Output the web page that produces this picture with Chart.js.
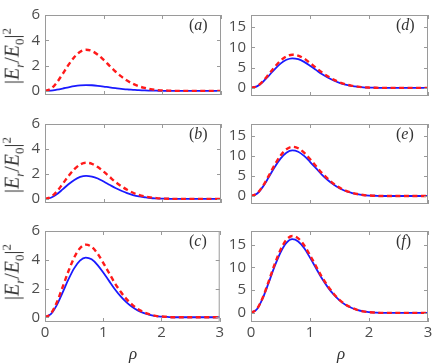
<!DOCTYPE html>
<html>
<head>
<meta charset="utf-8">
<script src="https://cdn.jsdelivr.net/npm/chart.js@4"></script>
<style>
  body { margin: 0; background: #fff; }
  #wrap { position: relative; width: 436px; height: 364px; overflow: hidden; }
  canvas { position: absolute; }
  .lbl { position: absolute; font-family: "Liberation Serif", serif; font-size: 15px; color: #333; white-space: nowrap; }
  .ytitle { transform: translate(-50%, -50%) rotate(-90deg); font-size: 20px; line-height: 20px; }
  .ytitle sub, .ytitle sup { font-size: 13px; }
  .xtitle { transform: translate(-50%, -50%); font-style: italic; font-size: 17px; }
</style>
</head>
<body>
<div id="wrap"></div>
<script>
const rho = [0, 0.1, 0.2, 0.3, 0.4, 0.5, 0.6, 0.7, 0.8, 0.9, 1.0, 1.1, 1.2, 1.3, 1.4, 1.5, 1.6, 1.7, 1.8, 1.9, 2.0, 2.1, 2.2, 2.5, 3.0];

const blueA = [0, 0.02, 0.09, 0.18, 0.28, 0.37, 0.43, 0.45, 0.44, 0.40, 0.34, 0.27, 0.21, 0.16, 0.11, 0.08, 0.05, 0.03, 0.02, 0.01, 0, 0, 0, 0, 0];
const redA = [0, 0.16, 0.65, 1.33, 2.05, 2.67, 3.09, 3.25, 3.15, 2.86, 2.44, 1.98, 1.53, 1.14, 0.81, 0.55, 0.36, 0.23, 0.13, 0.07, 0.03, 0.02, 0, 0, 0];
const blueB = [0, 0.09, 0.37, 0.76, 1.17, 1.52, 1.76, 1.85, 1.79, 1.63, 1.39, 1.13, 0.87, 0.65, 0.46, 0.31, 0.20, 0.13, 0.07, 0.04, 0.02, 0.01, 0, 0, 0];
const redB = [0, 0.15, 0.58, 1.19, 1.83, 2.38, 2.76, 2.90, 2.81, 2.55, 2.18, 1.77, 1.36, 1.02, 0.73, 0.49, 0.32, 0.20, 0.12, 0.06, 0.03, 0.01, 0, 0, 0];
const blueC = [0, 0.21, 0.83, 1.70, 2.61, 3.40, 3.94, 4.15, 4.03, 3.65, 3.11, 2.53, 1.95, 1.45, 1.04, 0.71, 0.46, 0.29, 0.17, 0.08, 0.04, 0.02, 0, 0, 0];
const redC = [0, 0.25, 1.01, 2.07, 3.18, 4.14, 4.80, 5.05, 4.90, 4.44, 3.79, 3.08, 2.37, 1.77, 1.26, 0.86, 0.56, 0.35, 0.20, 0.10, 0.05, 0.03, 0, 0, 0];
const blueD = [0, 0.37, 1.46, 2.99, 4.60, 5.99, 6.94, 7.30, 7.08, 6.42, 5.48, 4.45, 3.43, 2.56, 1.83, 1.24, 0.80, 0.51, 0.29, 0.15, 0.07, 0.04, 0, 0, 0];
const redD = [0, 0.41, 1.64, 3.36, 5.17, 6.72, 7.79, 8.20, 7.95, 7.22, 6.15, 5.00, 3.85, 2.87, 2.05, 1.39, 0.90, 0.57, 0.33, 0.16, 0.08, 0.04, 0, 0, 0];
const blueE = [0, 0.57, 2.28, 4.67, 7.18, 9.35, 10.83, 11.40, 11.06, 10.03, 8.55, 6.95, 5.36, 3.99, 2.85, 1.94, 1.25, 0.80, 0.46, 0.23, 0.11, 0.06, 0, 0, 0];
const redE = [0, 0.62, 2.46, 5.04, 7.75, 10.09, 11.69, 12.30, 11.93, 10.82, 9.23, 7.50, 5.78, 4.31, 3.08, 2.09, 1.35, 0.86, 0.49, 0.25, 0.12, 0.06, 0, 0, 0];
const blueF = [0, 0.81, 3.24, 6.64, 10.21, 13.28, 15.39, 16.20, 15.71, 14.26, 12.15, 9.88, 7.61, 5.67, 4.05, 2.75, 1.78, 1.13, 0.65, 0.32, 0.16, 0.08, 0, 0, 0];
const redF = [0, 0.85, 3.38, 6.93, 10.65, 13.86, 16.06, 16.90, 16.39, 14.87, 12.68, 10.31, 7.94, 5.92, 4.23, 2.87, 1.86, 1.18, 0.68, 0.34, 0.17, 0.08, 0, 0, 0];

const xTicks = [0, 1, 2, 3];
const yTicksLeft = [0, 2, 4, 6];
const yTicksRight = [0, 5, 10, 15];

const panels = [
  { name: "a", blue: blueA, red: redA, col: 0, top: 10, h: 96, bottom: false },
  { name: "b", blue: blueB, red: redB, col: 0, top: 119, h: 95, bottom: false },
  { name: "c", blue: blueC, red: redC, col: 0, top: 226, h: 96, bottom: true },
  { name: "d", blue: blueD, red: redD, col: 1, top: 10, h: 97, bottom: false },
  { name: "e", blue: blueE, red: redE, col: 1, top: 119, h: 96, bottom: false },
  { name: "f", blue: blueF, red: redF, col: 1, top: 226, h: 96, bottom: true },
];

const wrap = document.getElementById("wrap");
const tickFont = { family: "'Open Sans', 'DejaVu Sans', sans-serif", size: 15 };

// box around the plot with MATLAB-style inward tick marks
const boxPlugin = {
  id: "box",
  afterDraw(chart) {
    const { ctx, chartArea: a, scales } = chart;
    ctx.save();
    ctx.strokeStyle = "#9a9a9a";
    ctx.lineWidth = 1;
    ctx.strokeRect(a.left + 0.5, a.top + 0.5, a.width - 1, a.height - 1);
    ctx.beginPath();
    scales.x.ticks.forEach((t) => {
      const px = Math.round(scales.x.getPixelForValue(t.value)) + 0.5;
      ctx.moveTo(px, a.top); ctx.lineTo(px, a.top + 4);
      ctx.moveTo(px, a.bottom); ctx.lineTo(px, a.bottom - 4);
    });
    scales.y.ticks.forEach((t) => {
      const py = Math.round(scales.y.getPixelForValue(t.value)) + 0.5;
      ctx.moveTo(a.left, py); ctx.lineTo(a.left + 4, py);
      ctx.moveTo(a.right, py); ctx.lineTo(a.right - 4, py);
    });
    ctx.stroke();
    ctx.restore();
  },
};

panels.forEach((p) => {
  const left = p.col === 0 ? 0 : 226;
  const width = p.col === 0 ? 226 : 210;
  const yW = p.col === 0 ? 45 : 25;
  const padR = p.col === 0 ? 5 : 8;
  const xH = p.bottom ? 24 : 0;
  const padTop = 9;
  const canvas = document.createElement("canvas");
  canvas.width = width;
  canvas.height = padTop + p.h + xH + 3;
  canvas.style.left = left + "px";
  canvas.style.top = (p.top - padTop) + "px";
  wrap.appendChild(canvas);

  const yTicks = p.col === 0 ? yTicksLeft : yTicksRight;
  new Chart(canvas.getContext("2d"), {
    type: "line",
    data: {
      datasets: [
        {
          data: rho.map((x, i) => ({ x, y: p.red[i] })),
          borderColor: "#ff1a1a",
          borderWidth: 2.4,
          borderDash: [5, 3.5],
          pointRadius: 0,
          cubicInterpolationMode: "monotone",
        },
        {
          data: rho.map((x, i) => ({ x, y: p.blue[i] })),
          borderColor: "#1a1aff",
          borderWidth: 1.8,
          pointRadius: 0,
          cubicInterpolationMode: "monotone",
        },
      ],
    },
    options: {
      responsive: false,
      animation: false,
      devicePixelRatio: 1,
      layout: { padding: { top: padTop, right: padR, bottom: 3, left: 0 } },
      plugins: { legend: { display: false }, tooltip: { enabled: false } },
      scales: {
        x: {
          type: "linear",
          min: 0,
          max: 3,
          afterBuildTicks: (s) => { s.ticks = xTicks.map((v) => ({ value: v })); },
          afterFit: (s) => { s.height = xH; },
          ticks: { display: p.bottom, font: tickFont, color: "#4d4d4d", padding: 2, maxRotation: 0 },
          grid: { display: false, drawTicks: false },
          border: { display: false },
        },
        y: {
          min: p.col === 0 ? -0.33 : -2,
          max: p.col === 0 ? 6 : 18,
          afterBuildTicks: (s) => { s.ticks = yTicks.map((v) => ({ value: v })); },
          afterFit: (s) => { s.width = yW; },
          ticks: { font: tickFont, color: "#4d4d4d", padding: 5 },
          grid: { display: false, drawTicks: false },
          border: { display: false },
        },
      },
    },
    plugins: [boxPlugin],
  });

  const right = p.col === 0 ? 221 : 428;
  const tag = document.createElement("div");
  tag.className = "lbl";
  tag.style.left = (right - 32) + "px";
  tag.style.top = (p.top + 6) + "px";
  tag.style.fontSize = "16px";
  tag.innerHTML = "(<i>" + p.name + "</i>)";
  wrap.appendChild(tag);

  if (p.col === 0) {
    const yt = document.createElement("div");
    yt.className = "lbl ytitle";
    yt.style.left = "13px";
    yt.style.top = (p.top + p.h / 2 - 2) + "px";
    yt.innerHTML = "|<i>E<sub>r</sub></i>/<i>E</i><sub>0</sub>|<sup>2</sup>";
    wrap.appendChild(yt);
  }
});

[133, 341].forEach((cx) => {
  const xt = document.createElement("div");
  xt.className = "lbl xtitle";
  xt.style.left = cx + "px";
  xt.style.top = "354px";
  xt.textContent = "ρ";
  wrap.appendChild(xt);
});
</script>
</body>
</html>
